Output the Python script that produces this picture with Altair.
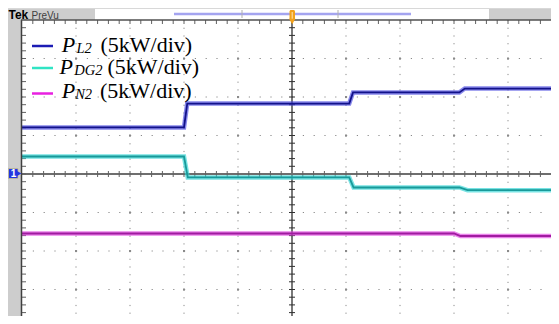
import altair as alt
import pandas as pd

# ---- trace data (x: divisions 0..10, y: divisions, 0 = centre line)
pl2_t = [0.0, 3.00, 3.06, 6.06, 6.13, 8.10, 8.20, 9.95]
pl2_v = [1.21, 1.21, 1.83, 1.83, 2.12, 2.12, 2.22, 2.22]
pdg2_t = [0.0, 3.00, 3.07, 6.06, 6.14, 8.10, 8.25, 9.95]
pdg2_v = [0.455, 0.455, -0.09, -0.09, -0.35, -0.35, -0.42, -0.42]
pn2_t = [0.0, 8.00, 8.12, 9.95]
pn2_v = [-1.545, -1.545, -1.61, -1.61]

legend_main = ["P", "P", "P"]
legend_sub = ["L2", "DG2", "N2"]
legend_unit = ["(5kW/div)", "(5kW/div)", "(5kW/div)"]

W, H = 543, 308
X_DOM = [-14 / 54, (W - 14) / 54]
Y_DOM = [-(H - 166) / 38.5, 166 / 38.5]

def X(f="x"):
    return alt.X(f"{f}:Q", scale=alt.Scale(domain=X_DOM, nice=False, zero=False), axis=None)

def Y(f="y"):
    return alt.Y(f"{f}:Q", scale=alt.Scale(domain=Y_DOM, nice=False, zero=False), axis=None)

def PX(f="px"):
    return alt.X(f"{f}:Q", scale=None, axis=None)

def PY(f="py"):
    return alt.Y(f"{f}:Q", scale=None, axis=None)

layers = []

# ---- graticule
vgrid = pd.DataFrame({"x": [1, 2, 3, 4, 6, 7, 8, 9], "y": 4.0, "y2": Y_DOM[0]})
layers.append(alt.Chart(vgrid).mark_rule(color="#8a8a8a", strokeWidth=1, strokeDash=[1.2, 6.5], clip=True)
              .encode(x=X(), y=Y(), y2="y2"))
hgrid = pd.DataFrame({"y": [3, 2, 1, -1, -2, -3], "x": 0.0, "x2": X_DOM[1]})
layers.append(alt.Chart(hgrid).mark_rule(color="#8a8a8a", strokeWidth=1, strokeDash=[1.2, 9.6], clip=True)
              .encode(x=X(), x2="x2", y=Y()))
inter = pd.DataFrame([{"x": gx, "y": gy} for gx in [1, 2, 3, 4, 6, 7, 8, 9] for gy in [3, 2, 1, -1, -2, -3]])
layers.append(alt.Chart(inter).mark_point(shape="square", filled=True, size=4, color="#8a8a8a",
                                          opacity=1, clip=True)
              .encode(x=X(), y=Y()))

# centre lines
layers.append(alt.Chart(pd.DataFrame({"x": [5.0], "y": [4.0], "y2": [Y_DOM[0]]}))
              .mark_rule(color="#303030", strokeWidth=1.3, clip=True).encode(x=X(), y=Y(), y2="y2"))
layers.append(alt.Chart(pd.DataFrame({"y": [0.0], "x": [0.0], "x2": [X_DOM[1]]}))
              .mark_rule(color="#6e6e6e", strokeWidth=2, clip=True).encode(x=X(), x2="x2", y=Y()))

vt = pd.DataFrame({"y": [k * 0.2 for k in range(-19, 20) if k != 0 and k * 0.2 > Y_DOM[0]], "x": 5.0})
layers.append(alt.Chart(vt).mark_rule(color="#303030", strokeWidth=1, xOffset=-3, x2Offset=3, clip=True)
              .encode(x=X(), x2="x", y=Y()))
ht = pd.DataFrame({"x": [k * 0.2 for k in range(1, 50) if k != 25 and k * 0.2 < X_DOM[1]], "y": 0.0})
layers.append(alt.Chart(ht).mark_rule(color="#606060", strokeWidth=1, yOffset=-3, y2Offset=3, clip=True)
              .encode(x=X(), y=Y(), y2="y"))
lt = pd.DataFrame({"y": [k * 0.2 for k in range(-19, 20) if k * 0.2 > Y_DOM[0]], "x": 0.0})
layers.append(alt.Chart(lt).mark_rule(color="#606060", strokeWidth=1, x2Offset=4, clip=True)
              .encode(x=X(), x2="x", y=Y()))
tt = pd.DataFrame({"x": [k * 0.2 for k in range(1, 50) if k * 0.2 < X_DOM[1]], "y": 4.0})
layers.append(alt.Chart(tt).mark_rule(color="#606060", strokeWidth=1, y2Offset=4, clip=True)
              .encode(x=X(), y=Y(), y2="y"))

# ---- traces
def trace(t, v, wide, core):
    df = pd.DataFrame({"x": t, "y": v})
    a = alt.Chart(df).mark_line(color=wide, strokeWidth=4.5, opacity=0.65, clip=True).encode(x=X(), y=Y())
    b = alt.Chart(df).mark_line(color=core, strokeWidth=1.8, clip=True).encode(x=X(), y=Y())
    return [a, b]

layers += trace(pn2_t, pn2_v, "#e040e0", "#a01ca0")
layers += trace(pdg2_t, pdg2_v, "#30d4d4", "#189a9a")
layers += trace(pl2_t, pl2_v, "#4848e0", "#12128a")

# ---- frame decorations (pixel positions within the view)
rects = pd.DataFrame([
    {"px": 0, "px2": 13, "py": 0, "py2": H, "c": "#cdcdcd"},
    {"px": 0, "px2": 87, "py": 0, "py2": 12, "c": "#cdcdcd"},
    {"px": 481, "px2": W, "py": 0, "py2": 12, "c": "#cdcdcd"},
])
layers.append(alt.Chart(rects).mark_rect().encode(
    x=PX(), x2="px2", y=PY(), y2="py2", color=alt.Color("c:N", scale=None)))
layers.append(alt.Chart(pd.DataFrame({"px": [0], "px2": [W], "py": [0.5]}))
              .mark_rule(color="#d8d8d8", strokeWidth=1).encode(x=PX(), x2="px2", y=PY()))
layers.append(alt.Chart(pd.DataFrame({"px": [13.5], "py": [12], "py2": [H]}))
              .mark_rule(color="#404040", strokeWidth=1.5).encode(x=PX(), y=PY(), y2="py2"))
layers.append(alt.Chart(pd.DataFrame({"px": [13], "px2": [W], "py": [12]}))
              .mark_rule(color="#505050", strokeWidth=1.5).encode(x=PX(), x2="px2", y=PY()))

# header
layers.append(alt.Chart(pd.DataFrame({"px": [166], "px2": [403], "py": [6]}))
              .mark_rule(color="#a4a4f0", strokeWidth=2.5).encode(x=PX(), x2="px2", y=PY()))
layers.append(alt.Chart(pd.DataFrame({"px": [234, 330], "py": [2, 2], "py2": [10, 10]}))
              .mark_rule(color="#b0b0b0", strokeWidth=1).encode(x=PX(), y=PY(), y2="py2"))
layers.append(alt.Chart(pd.DataFrame({"px": [281.5], "px2": [287], "py": [2], "py2": [12]}))
              .mark_rect(color="#f2a11c", cornerRadius=1.5).encode(x=PX(), x2="px2", y=PY(), y2="py2"))
layers.append(alt.Chart(pd.DataFrame({"px": [284.2], "py": [4], "py2": [11]}))
              .mark_rule(color="#fde7b8", strokeWidth=1).encode(x=PX(), y=PY(), y2="py2"))
layers.append(alt.Chart(pd.DataFrame({"px": [284.2], "py": [13.5]}))
              .mark_point(shape="triangle-down", filled=True, size=40, color="#f2a11c", opacity=1)
              .encode(x=PX(), y=PY()))

layers.append(alt.Chart(pd.DataFrame({"px": [0.5], "py": [0], "t": ["Tek"]}))
              .mark_text(font="Liberation Sans", fontWeight="bold", fontSize=12, color="#000000",
                         align="left", baseline="alphabetic", dy=11)
              .encode(x=PX(), y=PY(), text="t:N"))
layers.append(alt.Chart(pd.DataFrame({"px": [23.5], "py": [0], "t": ["PreVu"]}))
              .mark_text(font="Liberation Sans Narrow, Liberation Sans", fontSize=10, color="#404040",
                         align="left", baseline="alphabetic", dy=10.5)
              .encode(x=PX(), y=PY(), text="t:N"))

# channel 1 marker
layers.append(alt.Chart(pd.DataFrame({"px": [0.5], "px2": [10], "py": [160.5], "py2": [170.5]}))
              .mark_rect(color="#2236e0", stroke="#c8c090", strokeWidth=0.8)
              .encode(x=PX(), x2="px2", y=PY(), y2="py2"))
layers.append(alt.Chart(pd.DataFrame({"px": [11], "py": [165.5]}))
              .mark_point(shape="triangle-right", filled=True, size=30, color="#2236e0", opacity=1)
              .encode(x=PX(), y=PY()))
layers.append(alt.Chart(pd.DataFrame({"px": [5.5], "py": [165.5], "t": ["1"]}))
              .mark_text(font="Liberation Sans", fontWeight="bold", fontSize=10, color="white",
                         baseline="middle")
              .encode(x=PX(), y=PY(), text="t:N"))

# ---- legend
leg_colors = ["#1c1cb4", "#30e4c4", "#e820e0"]
leg_line = pd.DataFrame({"px": [24, 24, 24], "px2": [45, 45, 45], "py": [38, 60, 85.5], "c": leg_colors})
layers.append(alt.Chart(leg_line).mark_rule(strokeWidth=2.5).encode(
    x=PX(), x2="px2", y=PY(), color=alt.Color("c:N", scale=None)))

leg_p = pd.DataFrame({"px": [53.7, 51.5, 53.7], "py": [44, 66, 89.5], "t": legend_main})
layers.append(alt.Chart(leg_p).mark_text(font="Liberation Serif", fontStyle="italic", fontSize=22,
                                         color="#000000", align="left", baseline="alphabetic")
              .encode(x=PX(), y=PY(), text="t:N"))
leg_s = pd.DataFrame({"px": [68.5, 66.3, 67.2], "py": [44.5, 67, 90.5], "t": legend_sub})
layers.append(alt.Chart(leg_s).mark_text(font="Liberation Serif", fontStyle="italic", fontSize=14.5,
                                         color="#000000", align="left", baseline="alphabetic")
              .encode(x=PX(), y=PY(), text="t:N"))
leg_u = pd.DataFrame({"px": [92.5, 99.5, 92.0], "py": [44, 66, 89.5], "t": legend_unit})
layers.append(alt.Chart(leg_u).mark_text(font="Liberation Serif", fontSize=22,
                                         color="#000000", align="left", baseline="alphabetic")
              .encode(x=PX(), y=PY(), text="t:N"))

chart = alt.layer(*layers).properties(
    width=W, height=H, padding=0, background="white",
    autosize=alt.AutoSizeParams(type="none"),
).configure_view(stroke=None)

chart.save("out.html", embed_options={"renderer": "svg", "actions": False})
